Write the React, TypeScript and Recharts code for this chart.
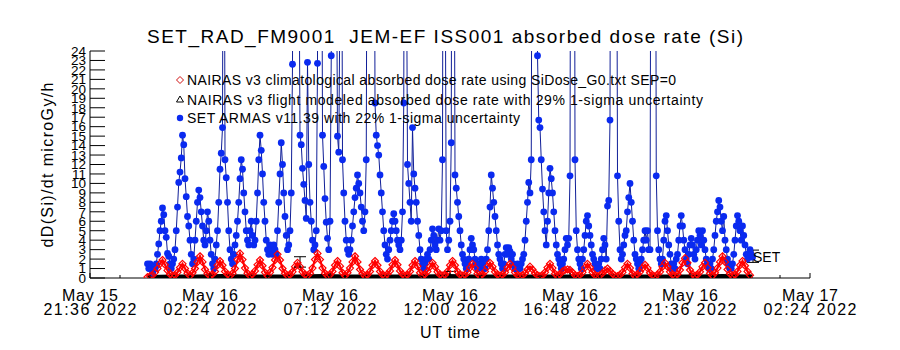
import React from "react"
import { ComposedChart, Line, Scatter, XAxis, YAxis, ErrorBar } from "recharts"

// hours after 2022-05-15 21:36 UT
const armasStart = 2.3
const armasStep = 0.05
// SET ARMAS v11.39 absorbed dose rate (Si), microGy/h
const armasRate = [
  1.5, 1, 1.5, 1, 0.5, 1, 1, 1.5,
  2.5, 3.6, 5, 6, 7.4, 6.7, 5, 4.3,
  2.6, 2.3, 1.5, 1, 1.5, 2, 3, 5,
  7.5, 10.1, 11.2, 12.7, 15.1, 14.1, 10.5, 8.6,
  6.5, 5.5, 4, 2.5, 1.5, 2, 4, 6,
  8, 9.3, 8.5, 7, 5.5, 4, 3.5, 5,
  7, 6, 4, 2.5, 1.5, 1, 2, 3.5,
  5, 8, 11.5, 13.2, 15.9, 70, 12.5, 10.6,
  8, 5, 3, 2, 1.5, 2.5, 3.5, 4.5,
  6, 8, 10.5, 12.5, 11.5, 9, 7, 5,
  4, 3.5, 5, 6, 4.5, 3.5, 4, 6,
  9, 12.5, 15.1, 13.5, 11, 8, 6, 4,
  3, 2.5, 3.5, 3, 2.5, 3.5, 3, 2.5,
  5, 8, 11, 14.3, 12, 9, 6.5, 4.5,
  3, 3.5, 5, 9, 22.6, 80, 110, 95,
  70, 40, 15.1, 14.1, 11.6, 9.9, 8.2, 6.3,
  22.8, 12, 8, 6, 4, 3, 3.5, 5,
  22.7, 90, 120, 60, 15.1, 11.8, 8.4, 5.9,
  4.2, 3, 6, 23.5, 80, 100, 70, 40,
  15, 13.3, 30, 60, 12.5, 9, 6, 4,
  3, 2.5, 3, 4, 5.5, 7, 8.5, 9.5,
  10.9, 10, 9, 7.5, 6, 5, 7, 12.5,
  60, 100, 120, 110, 90, 70, 18.5, 15.1,
  14, 13, 10.9, 9, 7, 5, 3.5, 2.5,
  2, 3, 4, 5, 6, 6.8, 6, 5,
  4, 3.5, 3, 4, 7, 18.5, 80, 40,
  12, 10, 8, 6, 15.9, 11, 9.5, 8,
  6, 4.5, 3, 2, 1.5, 1, 1.5, 2,
  2.5, 2, 3, 4, 5.2, 4.5, 3.5, 3,
  4, 5.2, 4, 5, 12.5, 80, 40, 5,
  3, 4, 6, 14.3, 90, 60, 10.9, 9.5,
  8, 6.5, 5, 3.5, 2.5, 2, 1.5, 1,
  1.5, 2, 3, 4.2, 3.5, 3, 2, 1.5,
  1, 1, 1.5, 2, 1.5, 1, 1, 2,
  3, 5, 7.5, 10.9, 9.5, 8, 6.5, 5,
  3.5, 2.5, 2, 1.5, 1, 1.5, 2.5, 3.2,
  2.5, 3.2, 2.8, 2, 2.5, 1.5, 1, 1,
  1.5, 1, 1, 1.5, 2, 2.5, 4, 6,
  8, 10.1, 9, 12.5, 60, 100, 90, 50,
  23.5, 16.7, 15.9, 12.5, 9.4, 7, 5, 3.5,
  6, 9, 11.6, 10.5, 9, 7, 5, 3.5,
  2.5, 2, 1.5, 1, 1.5, 2, 3, 4.2,
  3.5, 4.2, 10.8, 80, 110, 90, 12.5, 5,
  3, 2, 1.5, 1, 2, 3, 4.5, 6,
  6.6, 5.5, 4.5, 3.5, 2.5, 2, 1.5, 1,
  1, 1.5, 1, 2, 3, 4.2, 3.5, 2,
  7.6, 8.2, 16.7, 90, 130, 120, 100, 60,
  10.8, 6, 3, 2, 2.5, 3.5, 4.5, 5,
  7, 8.5, 10, 8, 6, 4, 2.5, 2,
  1.5, 1, 1.5, 2, 3, 4, 5, 4,
  5, 3, 3, 60, 110, 100, 80, 10.8,
  5, 3, 2, 1.5, 2, 4, 6, 6.6,
  5, 3.5, 2.5, 1.5, 1, 1.5, 1, 2,
  2.5, 4, 5.5, 6.6, 5.5, 4, 3, 2,
  1.5, 2.5, 3.5, 4.2, 3.5, 2.5, 2, 3,
  4, 5, 4.5, 3.5, 5, 4, 3, 2,
  1.5, 1, 1.5, 1, 2, 3, 4.5, 6,
  7, 8.2, 7.5, 6, 5, 6.5, 4, 3,
  2, 1.5, 1, 1, 1.5, 2.5, 4, 5.5,
  6.6, 6, 5, 4, 5.5, 4.5, 3.5, 2.5,
  2, 2.5, 3, 2.5, 2.2,
]

// NAIRAS v3 climatological absorbed dose rate
const climStart = 2.3
const climStep = 0.1
const climRate = [
  0.1, 0.2, 0.3, 0.6, 1.0, 1.5,
  1.9, 1.4, 0.8, 0.4, 0.25, 0.3, 0.6, 1.1,
  1.5, 1.0, 0.5, 0.25, 0.55, 1.0, 1.7,
  2.3, 1.7, 0.9, 0.45, 0.25, 0.4, 0.7, 1.35,
  1.8, 1.35, 0.7, 0.4, 0.25, 0.5, 1.0, 1.95,
  2.6, 1.95, 1.05, 0.5, 0.25, 0.4, 0.75, 1.4,
  1.9, 1.3, 0.6, 0.25, 0.6, 1.1, 1.9,
  2.5, 1.9, 1.0, 0.5, 0.25, 0.35, 0.65, 1.2,
  1.6, 1.2, 0.65, 0.35, 0.25, 0.5, 1.05, 1.95,
  2.6, 1.95, 1.05, 0.5, 0.25, 0.35, 0.7, 1.35,
  1.8, 1.25, 0.55, 0.25, 0.55, 1.05, 1.7,
  2.3, 1.7, 0.9, 0.45, 0.25, 0.35, 0.7, 1.35,
  1.8, 1.35, 0.7, 0.35, 0.25, 0.4, 0.75, 1.4,
  1.9, 1.4, 0.75, 0.4, 0.25, 0.35, 0.7, 1.35,
  1.8, 1.25, 0.55, 0.25, 0.4, 0.7, 1.2,
  1.6, 1.2, 0.65, 0.35, 0.25, 0.35, 0.7, 1.35,
  1.8, 1.35, 0.7, 0.35, 0.25, 0.35, 0.6, 1.1,
  1.5, 1.05, 0.45, 0.25, 0.4, 0.7, 1.2,
  1.6, 1.2, 0.65, 0.35, 0.25, 0.35, 0.6, 1.1,
  1.5, 1.1, 0.6, 0.3, 0.2, 0.3, 0.5, 0.9,
  1.2, 0.9, 0.5, 0.3, 0.2, 0.3, 0.6, 1.1,
  1.5, 1.05, 0.45, 0.25, 0.4, 0.7, 0.85,
  0.9, 0.85, 0.6, 0.3, 0.2, 0.35, 0.6, 1.1,
  1.5, 1.1, 0.6, 0.3, 0.2, 0.3, 0.5, 0.8,
  1.0, 0.75, 0.45, 0.25, 0.2, 0.35, 0.6, 1.1,
  1.5, 1.05, 0.45, 0.25, 0.4, 0.65, 1.05,
  1.4, 1.05, 0.55, 0.3, 0.2, 0.35, 0.65, 1.2,
  1.6, 1.2, 0.65, 0.35, 0.25, 0.4, 0.85, 1.6,
  2.1, 1.6, 0.85, 0.4, 0.25, 0.35, 0.65, 1.2,
  1.6, 1.1, 0.5, 0.25, 0.55, 1.05, 1.7,
  2.3, 1.7, 0.9, 0.45, 0.25, 0.35, 0.7, 1.35,
  1.8, 1.3, 0.7, 0.3,
]

// NAIRAS v3 flight modeled absorbed dose rate
const flightHours = [
  2.3, 3.3, 4.3, 5.3, 6.3, 7.3, 8.3, 9.3, 10.3, 11.3, 12.3, 13.3, 14.3,
  15.3, 16.3, 17.3, 18.3, 19.3, 20.3, 21.3, 22.3, 23.3, 24.3, 25.3, 26.3, 26.5,
]
const flightRate = [
  0.1, 0.15, 0.15, 0.2, 0.15, 0.15, 0.15, 0.2, 0.15, 0.15, 0.15, 0.15, 0.2,
  0.15, 0.15, 0.15, 0.15, 0.15, 0.2, 0.15, 0.15, 0.15, 0.15, 0.2, 0.15, 0.15,
]
const flightErrHours = [8.4, 14.4, 26.52]
const flightErrRate = [1.7, 0.4, 2.3]
const flightErrSigma = [0.55, 0.3, 0.65]

const xTicks = [
  0, 1.2, 2.4, 3.6, 4.8, 6, 7.2, 8.4, 9.6, 10.8, 12, 13.2, 14.4,
  15.6, 16.8, 18, 19.2, 20.4, 21.6, 22.8, 24, 25.2, 26.4, 27.6, 28.8,
]
const xMajor = [0, 4.8, 9.6, 14.4, 19.2, 24, 28.8]
const xDateLabels = ["May 15", "May 16", "May 16", "May 16", "May 16", "May 16", "May 17"]
const xTimeLabels = ["21:36 2022", "02:24 2022", "07:12 2022", "12:00 2022", "16:48 2022", "21:36 2022", "02:24 2022"]
const yTicks = [0, 1, 2, 3, 4, 5, 6, 7, 8, 9, 10, 11, 12, 13, 14, 15, 16, 17, 18, 19, 20, 21, 22, 23, 24]

const armasData = armasRate.map((v, i) => ({ t: +(armasStart + i * armasStep).toFixed(3), v }))
const climData = climRate.map((v, i) => ({ t: +(climStart + i * climStep).toFixed(3), v }))
const flightData = flightHours.map((t, i) => ({ t, v: flightRate[i] }))
const flightErrData = flightErrHours.map((t, i) => ({ t, v: flightErrRate[i], e: flightErrSigma[i] }))

const FONT = "'Liberation Sans', Arial, sans-serif"
const W = 884
const H = 334

const majorIndex = (v: number) => xMajor.findIndex((m) => Math.abs(m - v) < 1e-6)

const LeftTick = (p: any) => (
  <g>
    <line x1={p.x} y1={p.y} x2={p.x + 15} y2={p.y} stroke="#000" />
    <text x={p.x - 4} y={p.y + 4.8} textAnchor="end" fontSize={13.5} fontFamily={FONT} fill="#000">
      {p.payload.value}
    </text>
  </g>
)

const RightTick = (p: any) => (
  <line x1={p.x - 15} y1={p.y} x2={p.x} y2={p.y} stroke="#000" />
)

const BottomTick = (p: any) => {
  const k = majorIndex(p.payload.value)
  const len = k >= 0 ? 5 : 3
  return (
    <g>
      <line x1={p.x} y1={p.y} x2={p.x} y2={p.y - len} stroke="#000" />
      {k >= 0 && (
        <g fontFamily={FONT} fontSize={16} fill="#000" textAnchor="middle">
          <text x={p.x} y={p.y + 23} textLength={56}>{xDateLabels[k]}</text>
          <text x={p.x} y={p.y + 37} textLength={93}>{xTimeLabels[k]}</text>
        </g>
      )}
    </g>
  )
}

const TopTick = (p: any) => {
  const len = majorIndex(p.payload.value) >= 0 ? 5 : 3
  return <line x1={p.x} y1={p.y} x2={p.x} y2={p.y + len} stroke="#000" />
}

const armasDot = (p: any) => (
  <circle key={`a${p.index}`} cx={p.cx} cy={p.cy} r={3.4} fill="#0a2af0" />
)

const climDot = (p: any) => (
  <path
    key={`c${p.index}`}
    d={`M${p.cx},${p.cy - 3.5}L${p.cx + 3.5},${p.cy}L${p.cx},${p.cy + 3.5}L${p.cx - 3.5},${p.cy}Z`}
    fill="none"
    stroke="#ff0000"
    strokeWidth={1.2}
  />
)

export default function App() {
  return (
    <div style={{ position: "relative", width: W, height: H }}>
      <ComposedChart width={W} height={H} margin={{ top: 43, right: 82, bottom: 0, left: 0 }}>
        <XAxis
          xAxisId="b" dataKey="t" type="number" domain={[0, 28.8]} ticks={xTicks}
          interval={0} allowDataOverflow height={64} tickSize={0} tickMargin={0}
          tickLine={false} axisLine={{ stroke: "#000" }} tick={BottomTick}
        />
        <XAxis
          xAxisId="t" orientation="top" dataKey="t" type="number" domain={[0, 28.8]} ticks={xTicks}
          interval={0} allowDataOverflow height={0} tickSize={0} tickMargin={0}
          tickLine={false} axisLine={{ stroke: "#000" }} tick={TopTick}
        />
        <YAxis
          yAxisId="l" dataKey="v" type="number" domain={[0, 24]} ticks={yTicks}
          interval={0} allowDataOverflow width={82} tickSize={0} tickMargin={0}
          tickLine={false} axisLine={{ stroke: "#000" }} tick={LeftTick}
        />
        <YAxis
          yAxisId="r" orientation="right" type="number" domain={[0, 24]} ticks={yTicks}
          interval={0} allowDataOverflow width={0} tickSize={0} tickMargin={0}
          tickLine={false} axisLine={{ stroke: "#000" }} tick={RightTick}
        />
        <Line
          xAxisId="b" yAxisId="l" data={armasData} dataKey="v" type="linear"
          stroke="#101f98" strokeWidth={1} dot={armasDot} activeDot={false}
          isAnimationActive={false}
        />
        <Line
          xAxisId="b" yAxisId="l" data={climData} dataKey="v" type="linear"
          stroke="#ff0000" strokeWidth={2.2} dot={climDot} activeDot={false}
          isAnimationActive={false}
        />
        <Line
          xAxisId="b" yAxisId="l" data={flightData} dataKey="v" type="linear"
          stroke="#000" strokeWidth={4} dot={false} activeDot={false}
          isAnimationActive={false}
        />
        <Scatter
          xAxisId="b" yAxisId="l" data={flightErrData} dataKey="v"
          shape={() => <g />} isAnimationActive={false}
        >
          <ErrorBar dataKey="e" direction="y" width={6} stroke="#000" strokeWidth={1} />
        </Scatter>
      </ComposedChart>
      <svg
        width={W} height={H}
        style={{ position: "absolute", left: 0, top: 0, overflow: "visible", pointerEvents: "none" }}
      >
        <g transform="translate(-8,-8)" fontFamily={FONT} fill="#000">
          <text x={445} y={43} fontSize={19} textAnchor="middle" textLength={596}>
            {"SET_RAD_FM9001\u00a0\u00a0JEM-EF ISS001 absorbed dose rate (Si)"}
          </text>
          <text
            x={0} y={0} fontSize={16} textAnchor="middle" textLength={165}
            transform="translate(53,165) rotate(-90)"
          >
            dD(Si)/dt microGy/h
          </text>
          <text x={450} y={338} fontSize={16} textAnchor="middle" textLength={60}>UT time</text>

          <path d="M180,76.5L183.5,80L180,83.5L176.5,80Z" fill="none" stroke="#d01010" />
          <text x={187} y={85} fontSize={14} textLength={489}>
            NAIRAS v3 climatological absorbed dose rate using SiDose_G0.txt SEP=0
          </text>
          <path d="M180,96L183.5,102L176.5,102Z" fill="none" stroke="#000" />
          <text x={187} y={104.5} fontSize={14} textLength={516}>
            NAIRAS v3 flight modeled absorbed dose rate with 29% 1-sigma uncertainty
          </text>
          <circle cx={180} cy={118} r={3.2} fill="#0a2af0" />
          <text x={187} y={123} fontSize={14} textLength={333}>
            SET ARMAS v11.39 with 22% 1-sigma uncertainty
          </text>

          <text x={753} y={262} fontSize={14}>SET</text>
        </g>
      </svg>
    </div>
  )
}
